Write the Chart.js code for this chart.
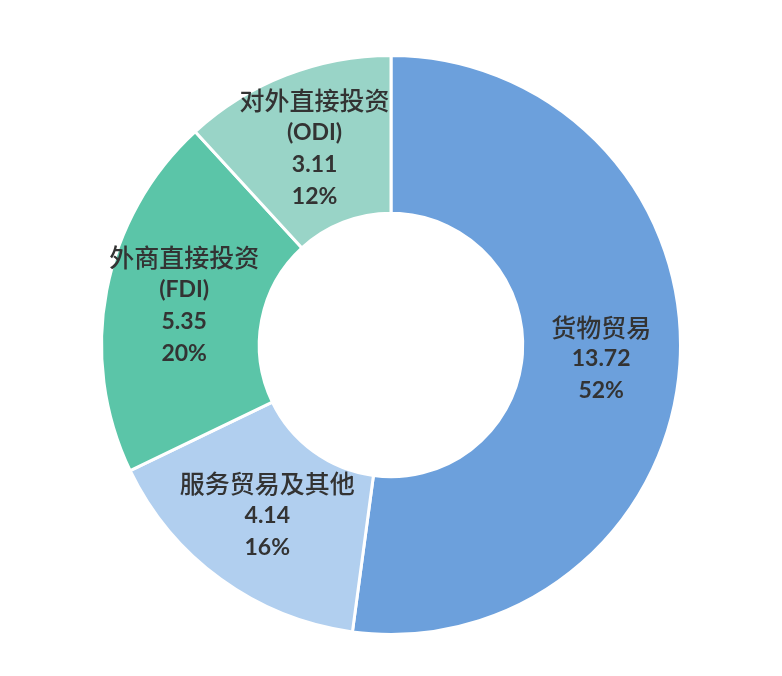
<!DOCTYPE html>
<html>
<head>
<meta charset="utf-8">
<script src="https://cdn.jsdelivr.net/npm/chart.js@4/dist/chart.umd.min.js"></script>
<style>
  body { margin: 0; background: #fff; }
  #wrap { width: 782px; height: 676px; }
</style>
</head>
<body>
<div id="wrap"><canvas id="trade-chart" width="782" height="676"></canvas></div>
<script>
// data
var categories = ['货物贸易', '服务贸易及其他', '外商直接投资', '对外直接投资'];
var subNames = ['', '', '(FDI)', '(ODI)'];
var values = [13.72, 4.14, 5.35, 3.11];
var colors = ['#6ca0dc', '#b1cfef', '#5bc5a8', '#99d4c7'];

var total = values.reduce((a, b) => a + b, 0);

// draws the text block in the middle of each slice
var sliceLabels = {
	id: 'sliceLabels',
	afterDatasetsDraw(chart) {
		var ctx = chart.ctx,
				meta = chart.getDatasetMeta(0);

		meta.data.forEach((arc, i) => {
			var p = arc.getCenterPoint(),
					lines = [{ text: categories[i], bold: false }];

			if (subNames[i]) lines.push({ text: subNames[i], bold: true });
			lines.push({ text: values[i].toFixed(2), bold: true });
			lines.push({ text: Math.round(values[i] / total * 100) + '%', bold: true });

			var lineH = 32,
					top = p.y - (lines.length - 1) * lineH / 2;

			ctx.save();
			ctx.fillStyle = '#333333';
			ctx.textAlign = 'center';
			ctx.textBaseline = 'middle';
			lines.forEach((ln, k) => {
				ctx.font = ln.bold
					? 'bold 23px Lato, "Noto Sans CJK SC", sans-serif'
					: '500 25px "Noto Sans CJK SC", sans-serif';
				ctx.fillText(ln.text, p.x, top + k * lineH);
			});
			ctx.restore();
		});
	}
};

var ctx = document.getElementById('trade-chart').getContext('2d'),
		tradeChart = new Chart(ctx, {
			type: 'doughnut',
			data: {
				labels: categories,
				datasets: [{
					data: values,
					backgroundColor: colors,
					borderColor: '#ffffff',
					borderWidth: 3
				}]
			},
			options: {
				responsive: false,
				animation: false,
				cutout: '45.5%',
				layout: { padding: { top: 54, bottom: 40, left: 0, right: 0 } },
				plugins: {
					legend: { display: false },
					tooltip: { enabled: false }
				}
			},
			plugins: [sliceLabels]
		});
</script>
</body>
</html>
